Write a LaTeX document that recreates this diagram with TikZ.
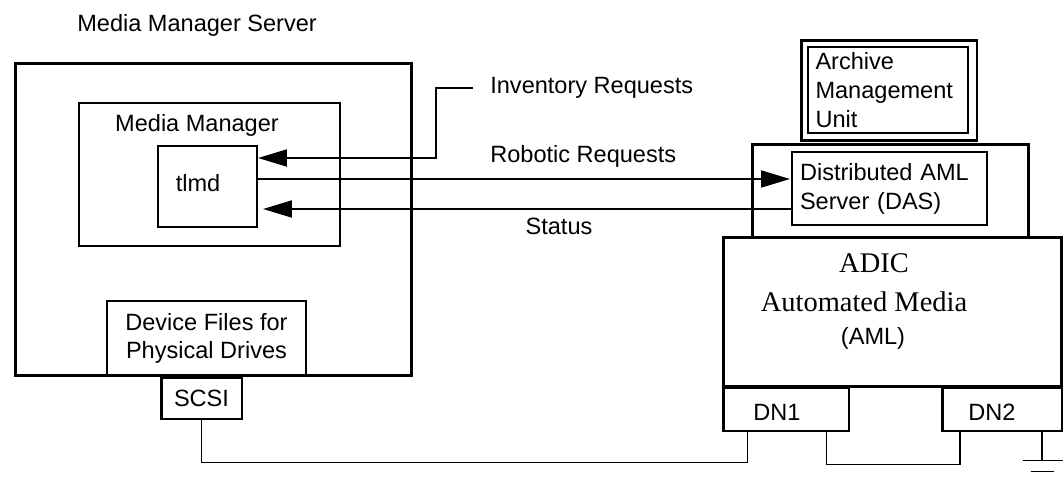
\documentclass[tikz,border=0pt]{standalone}
\usepackage{fontspec}
\setsansfont{Liberation Sans}
\newfontfamily\amlserif{Liberation Serif}
\usetikzlibrary{arrows.meta,calc,positioning}
\tikzset{
  thinbox/.style={
    draw,
    shape = rectangle,
    line width = 1.1pt,
    inner sep = 0pt
  },
  thickbox/.style={
    draw,
    shape = rectangle,
    line width = 1.7pt,
    inner sep = 0pt
  },
  txt/.style={
    inner sep = 0pt,
    font = \sffamily\fontsize{13.4}{16.4}\selectfont
  },
  serif/.style={
    inner sep = 0pt,
    font = \amlserif\fontsize{16.2}{19}\selectfont
  },
  wire/.style={
    line width = 1.1pt
  },
  arr/.style={
    wire,
    -{Triangle[length=0.58cm,width=0.34cm]}
  }
}

\begin{document}
\begin{tikzpicture}[x=0.02cm, y=-0.02cm]
    \useasboundingbox (0,0) rectangle (1064,480);

    % media manager server
    \node[txt, anchor=west] (title) at (77,25) {Media Manager Server};
    \node[thickbox, minimum width=7.94cm, minimum height=6.26cm] (server) at (213.5,219.5) {};
    \node[thinbox, minimum width=5.22cm, minimum height=2.86cm] (mm) at (209.5,174.5) {};
    \node[txt] (mmlabel) at (197,125) {Media Manager};
    \node[thinbox, minimum width=1.98cm, minimum height=1.62cm] (tlmd) at (207.5,186.5) {};
    \node[txt] (tlmdlabel) at (198,183) {tlmd};
    \node[thinbox, txt, align=center, minimum width=3.98cm, minimum height=1.5cm] (devfiles) at (206.5,338.5) {Device Files for\\Physical Drives};
    \node[thickbox, txt, minimum width=1.62cm, minimum height=0.84cm] (scsi) at (201.5,398) {SCSI};

    % AML side
    \node[thickbox, minimum width=3.52cm, minimum height=2.02cm] (amuout) at (889,90.5) {};
    \node[thinbox, txt, align=left, text width=2.9cm, minimum width=3.2cm, minimum height=1.72cm] (amuin) at (888,90) {Archive\\Management\\Unit};
    \node[thickbox, minimum width=5.54cm, minimum height=1.86cm] (dasout) at (890.5,190.5) {};
    \node[thinbox, txt, align=left, text width=3.58cm, minimum width=3.9cm, minimum height=1.46cm] (dasin) at (889.5,188.5) {Distributed AML\\Server (DAS)};
    \node[thickbox, minimum width=6.78cm, minimum height=3.0cm] (aml) at (892.5,312) {};
    \node[serif] (adic) at (874,263) {ADIC};
    \node[serif] (automed) at (864,302) {Automated Media};
    \node[txt] (amltext) at (873,338) {(AML)};
    \node[thickbox, minimum width=2.52cm, minimum height=0.88cm] (dn1) at (786,409) {};
    \node[txt] (dn1label) at (777,412) {DN1};
    \node[thickbox, minimum width=2.4cm, minimum height=0.88cm] (dn2) at (1002,409) {};
    \node[txt] (dn2label) at (992,412) {DN2};

    % requests and status
    \node[txt, anchor=west, inner xsep=0.34cm] (inv) at (473,88) {Inventory Requests};
    \node[txt, anchor=west] (robo) at (490,156) {Robotic Requests};
    \node[txt] (status) at (559,226) {Status};
    \coordinate (invtip) at (258,158);
    \coordinate (robin) at (790,179);
    \coordinate (stattip) at (263,209);
    \draw[arr] (inv.west) -- ++(-37,0) |- (invtip);
    \draw[arr] (tlmd.east |- robin) -- (robin);
    \draw[arr] (dasin.west |- stattip) -- (stattip);

    % cabling
    \draw[wire] (scsi.south) |- ($(dn1.south west)+(26,30)$) -- ($(dn1.south west)+(26,0)$);
    \draw[wire] ($(dn1.south west)+(105,0)$) |- ($(dn2.south west)+(19,32)$) -- ($(dn2.south west)+(19,0)$);
    \draw[wire] ($(dn2.south west)+(101,0)$) -- ++(0,28) coordinate (gnd);
    \draw[wire] ($(gnd)+(-19,0)$) -- ++(40,0);
    \draw[wire] ($(gnd)+(-11,11)$) -- ++(23,0);
\end{tikzpicture}
\end{document}
